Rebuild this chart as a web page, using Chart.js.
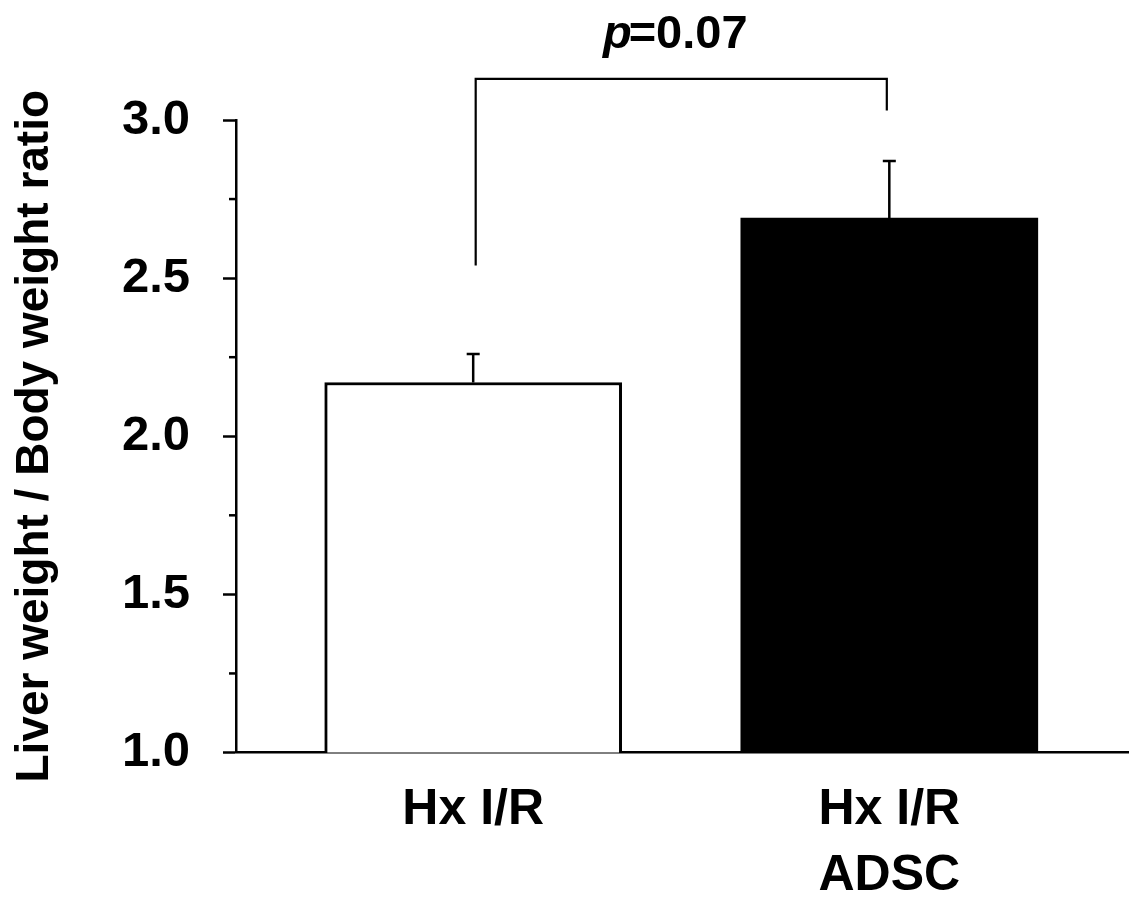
<!DOCTYPE html>
<html>
<head>
<meta charset="utf-8">
<script src="https://cdn.jsdelivr.net/npm/chart.js@4/dist/chart.umd.min.js"></script>
<style>
  html, body { margin: 0; padding: 0; background: #fff; }
  #c { display: block; }
</style>
</head>
<body>
<canvas id="c" width="1129" height="899"></canvas>
<script>
// ---- data ----
const categories = [['Hx I/R'], ['Hx I/R', 'ADSC']];
const means = [2.17, 2.69];
const sems = [0.09, 0.18];
const yTickValues = [1.0, 1.5, 2.0, 2.5, 3.0];
const yMinorTicks = [1.25, 1.75, 2.25, 2.75];
const yTitle = 'Liver weight / Body weight ratio';
const bracketLegs = [2.54, 3.03];   // lower end of left and right legs
const bracketTop = 3.13;
const pLabel = ['p', '=0.07'];
const barColors = ['#ffffff', '#000000'];

const FONT = '"Liberation Sans", Arial, sans-serif';
const xPositions = categories.map((_, i) => i + 1);

const overlay = {
  id: 'overlay',
  afterDatasetsDraw(chart) {
    const { ctx, scales: { x, y } } = chart;
    ctx.save();
    ctx.strokeStyle = '#000';
    ctx.fillStyle = '#000';
    ctx.lineCap = 'butt';

    // error bars (upper only)
    ctx.lineWidth = 2.5;
    means.forEach((m, i) => {
      const px = x.getPixelForValue(xPositions[i]);
      const y0 = y.getPixelForValue(m);
      const y1 = y.getPixelForValue(m + sems[i]);
      ctx.beginPath();
      ctx.moveTo(px, y0);
      ctx.lineTo(px, y1);
      ctx.moveTo(px - 6.5, y1);
      ctx.lineTo(px + 6.5, y1);
      ctx.stroke();
    });

    // minor y ticks
    const ax = chart.chartArea.left;
    ctx.lineWidth = 2.5;
    yMinorTicks.forEach(v => {
      const py = y.getPixelForValue(v);
      ctx.beginPath();
      ctx.moveTo(ax - 7, py);
      ctx.lineTo(ax, py);
      ctx.stroke();
    });

    // significance bracket
    const xl = x.getPixelForValue(xPositions[0]) + 2.5;
    const xr = x.getPixelForValue(xPositions[1]) - 2.5;
    const yt = y.getPixelForValue(bracketTop);
    ctx.lineWidth = 2.2;
    ctx.beginPath();
    ctx.moveTo(xl, y.getPixelForValue(bracketLegs[0]));
    ctx.lineTo(xl, yt);
    ctx.lineTo(xr, yt);
    ctx.lineTo(xr, y.getPixelForValue(bracketLegs[1]));
    ctx.stroke();

    // p label
    const fi = 'italic bold 47px ' + FONT;
    const fb = 'bold 47px ' + FONT;
    ctx.font = fi;
    const wp = ctx.measureText(pLabel[0]).width;
    ctx.font = fb;
    const we = ctx.measureText(pLabel[1]).width;
    const kern = -3;
    const total = wp + we + kern;
    const cx = (xl + xr) / 2 - 6;
    const by = yt - 31;
    ctx.textBaseline = 'alphabetic';
    ctx.textAlign = 'left';
    ctx.font = fi;
    ctx.fillText(pLabel[0], cx - total / 2, by);
    ctx.font = fb;
    ctx.fillText(pLabel[1], cx - total / 2 + wp + kern, by);

    ctx.restore();
  }
};

new Chart(document.getElementById('c'), {
  type: 'bar',
  data: {
    datasets: [{
      data: means.map((m, i) => ({ x: xPositions[i], y: m })),
      backgroundColor: barColors,
      borderColor: '#000',
      borderWidth: [3, 0],
      borderSkipped: false,
      barThickness: 297
    }]
  },
  options: {
    responsive: false,
    devicePixelRatio: 1,
    animation: false,
    layout: { padding: { top: 120, right: 0, bottom: 0, left: 0 } },
    plugins: { legend: { display: false }, tooltip: { enabled: false } },
    scales: {
      x: {
        type: 'linear',
        offset: false,
        min: 0.43,
        max: 2.576,
        grid: { display: false, drawTicks: false, offset: false },
        border: { display: true, color: '#000', width: 2.5 },
        ticks: {
          color: '#000',
          font: { family: FONT, size: 50, weight: 'bold', lineHeight: 1.32 },
          padding: 25,
          maxRotation: 0,
          autoSkip: false,
          callback: (v) => {
            const i = xPositions.indexOf(v);
            return i >= 0 ? categories[i] : '';
          }
        },
        afterBuildTicks: (s) => { s.ticks = xPositions.map(v => ({ value: v })); },
        afterFit: (s) => { s.height = 146.5; }
      },
      y: {
        min: 1,
        max: 3,
        grid: { display: true, drawOnChartArea: false, drawTicks: true, tickLength: 13, tickWidth: 2.5, color: '#000' },
        border: { display: true, color: '#000', width: 2.5 },
        ticks: {
          color: '#000',
          font: { family: FONT, size: 49, weight: 'bold' },
          padding: 33,
          callback: (v) => Number(v).toFixed(1)
        },
        afterBuildTicks: (s) => { s.ticks = yTickValues.map(v => ({ value: v })); },
        title: {
          display: true,
          text: yTitle,
          color: '#000',
          font: { family: FONT, size: 46, weight: 'bold', lineHeight: 1.2 },
          padding: { top: 8, bottom: 0 }
        },
        afterFit: (s) => { s.width = 236; }
      }
    }
  },
  plugins: [overlay]
});
</script>
</body>
</html>
